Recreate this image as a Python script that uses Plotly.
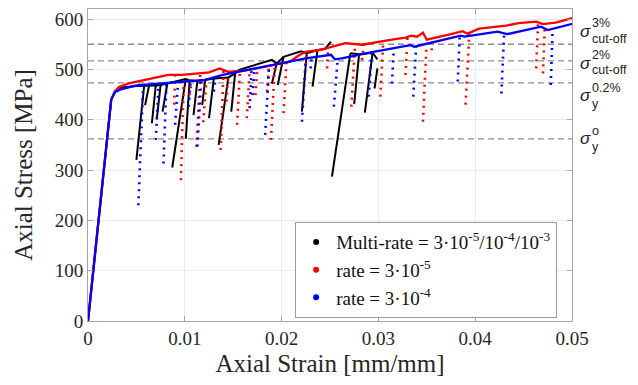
import plotly.graph_objects as go

# ---------------- data (strain [mm/mm], stress [MPa]) ----------------
# Multi-rate (black): envelope and unload/reload segments
black_env_strain = [0, 0.0024, 0.0028, 0.0035, 0.0050, 0.0058, 0.0063, 0.0070, 0.0075, 0.0082,
                    0.0101, 0.0105, 0.0113, 0.0121, 0.0130, 0.0145, 0.0152, 0.0156, 0.0175,
                    0.0190, 0.0195, 0.0202, 0.0220, 0.0226, 0.0237, 0.0245, 0.0251, None,
                    0.0271, 0.0280, 0.0294, 0.0299]
black_env_stress = [0, 440, 457, 464, 467, 467, 467, 468, 469, 472,
                    481, 478, 477, 479, 482, 484, 492, 499, 510,
                    519, 512, 525, 536, 532, 538, 541, 555, None,
                    532, 530, 533, 520]
black_bot_strain = [0.0050, 0.0059, 0.0066, 0.0071, 0.0077, 0.0087, 0.0101, 0.0109, 0.0118, 0.0125,
                    0.0135, 0.0148, 0.0190, 0.0196, 0.0221, 0.0232, 0.0252, 0.0275, 0.0286, 0.0296]
black_bot_stress = [320, 429, 393, 400, 416, 305, 362, 409, 429, 403,
                    350, 416, 472, 469, 416, 466, 287, 431, 414, 462]
black_top_strain = [0.0058, 0.0063, 0.0070, 0.0075, 0.0082, 0.0101, 0.0105, 0.0113, 0.0121, 0.0130,
                    0.0145, 0.0152, 0.0195, 0.0202, 0.0226, 0.0237, 0.0271, 0.0280, 0.0294, 0.0299]
black_top_stress = [467, 467, 468, 469, 472, 481, 478, 477, 479, 482,
                    484, 492, 512, 525, 532, 538, 532, 530, 533, 502]

# rate = 3e-5 (red)
red_env_strain = [0, 0.0024, 0.0028, 0.0032, 0.0042, 0.0066, 0.0083, 0.0097, 0.0115, 0.0125,
                  0.0136, 0.0145, 0.0166, 0.0190, 0.0208, 0.0218, 0.0225, 0.0240, 0.0251,
                  0.0266, 0.0283, 0.0300, 0.0314, 0.0328, 0.0334, 0.0340, 0.0346, 0.0350,
                  0.0360, 0.0375, 0.0387, 0.0392, 0.0404, 0.0432, 0.0445, 0.0463, 0.0470,
                  0.0483, 0.0501]
red_env_stress = [0, 440, 457, 465, 472, 482, 489, 489, 492, 494,
                  502, 495, 499, 509, 515, 528, 535, 539, 545,
                  552, 549, 555, 559, 563, 567, 565, 573, 559,
                  563, 570, 576, 571, 581, 587, 592, 595, 590,
                  593, 602]
red_bot_strain = [0.0089, 0.0096, 0.0105, 0.0112, 0.0119, 0.0137, 0.0143, 0.0154, 0.0164, 0.0173,
                  0.0185, 0.0189, 0.0202, 0.0225, 0.0247, 0.0272, 0.0283, 0.0302, 0.0328, 0.0346,
                  0.0355, 0.0390, 0.0463, 0.0470]
red_bot_stress = [430, 280, 449, 346, 395, 340, 436, 390, 403, 449,
                  456, 360, 413, 509, 502, 426, 519, 446, 489, 396,
                  538, 430, 502, 492]
red_top_strain = [0.0090, 0.0099, 0.0108, 0.0116, 0.0123, 0.0140, 0.0145, 0.0157, 0.0167, 0.0175,
                  0.0187, 0.0193, 0.0205, 0.0226, 0.0248, 0.0276, 0.0285, 0.0305, 0.0330, 0.0350,
                  0.0356, 0.0394, 0.0465, 0.0472]
red_top_stress = [488, 489, 491, 492, 493, 500, 495, 497, 499, 503,
                  507, 510, 514, 535, 543, 551, 549, 555, 563, 560,
                  560, 572, 595, 590]

# rate = 3e-4 (blue)
blue_env_strain = [0, 0.0024, 0.0028, 0.0035, 0.0050, 0.0057, 0.0080, 0.0100, 0.0121, 0.0139,
                   0.0173, 0.0208, 0.0225, 0.0251, 0.0255, 0.0262, 0.0292, 0.0333, 0.0337,
                   0.0385, 0.0389, 0.0423, 0.0433, 0.0468, 0.0475, 0.0501]
blue_env_stress = [0, 440, 455, 461, 468, 469, 472, 476, 479, 489,
                   502, 515, 522, 529, 520, 522, 534, 548, 545,
                   567, 565, 575, 570, 585, 578, 591]
blue_bot_strain = [0.0052, 0.0070, 0.0078, 0.0090, 0.0104, 0.0113, 0.0130, 0.0167, 0.0170, 0.0183,
                   0.0221, 0.0230, 0.0254, 0.0290, 0.0314, 0.0336, 0.0382, 0.0427, 0.0478]
blue_bot_stress = [230, 360, 313, 390, 426, 347, 456, 423, 449, 370,
                   396, 502, 426, 446, 472, 446, 476, 452, 469]
blue_top_strain = [0.0057, 0.0073, 0.0081, 0.0093, 0.0106, 0.0117, 0.0132, 0.0169, 0.0172, 0.0187,
                   0.0225, 0.0231, 0.0258, 0.0293, 0.0316, 0.0339, 0.0384, 0.0430, 0.0480]
blue_top_stress = [469, 471, 472, 474, 477, 478, 484, 500, 501, 506,
                   522, 524, 521, 534, 541, 546, 567, 574, 580]

# reference stress levels
level_names = ["o", "0.2%", "2%", "3%"]
level_values = [362, 473, 517, 550]

legend_names = ["Multi-rate = 3\u00b710<sup>-5</sup>/10<sup>-4</sup>/10<sup>-3</sup>",
                "rate = 3\u00b710<sup>-5</sup>",
                "rate = 3\u00b710<sup>-4</sup>"]
colors = ["#000000", "#ff0000", "#0000ff"]

x_ticks = [0, 0.01, 0.02, 0.03, 0.04, 0.05]
x_ticklabels = ["0", "0.01", "0.02", "0.03", "0.04", "0.05"]
y_ticks = [0, 100, 200, 300, 400, 500, 600]


def segments(bx, by, tx, ty):
    xs, ys = [], []
    for a, b, c, d in zip(bx, by, tx, ty):
        xs += [a, c, None]
        ys += [b, d, None]
    return xs, ys


fig = go.Figure()

series = [
    (black_env_strain, black_env_stress, black_bot_strain, black_bot_stress, black_top_strain, black_top_stress, "solid", 2.0, 2.0),
    (red_env_strain, red_env_stress, red_bot_strain, red_bot_stress, red_top_strain, red_top_stress, "2px,5px", 2.6, 2.3),
    (blue_env_strain, blue_env_stress, blue_bot_strain, blue_bot_stress, blue_top_strain, blue_top_stress, "2px,5px", 2.6, 2.3),
]

for i, (ex, ey, bx, by, tx, ty, dash, w, ew) in enumerate(series):
    fig.add_trace(go.Scatter(x=ex, y=ey, mode="lines", line=dict(color=colors[i], width=ew),
                             showlegend=False, hoverinfo="skip"))
    sx, sy = segments(bx, by, tx, ty)
    fig.add_trace(go.Scatter(x=sx, y=sy, mode="lines", line=dict(color=colors[i], width=w, dash=dash),
                             showlegend=False, hoverinfo="skip"))

for i, name in enumerate(legend_names):
    fig.add_trace(go.Scatter(x=[None], y=[None], mode="markers", name=name,
                             marker=dict(color=colors[i], size=6)))

for v in level_values:
    fig.add_shape(type="line", xref="x", yref="y", x0=0, x1=0.05, y0=v, y1=v,
                  line=dict(color="#8c8c8c", width=1.3, dash="6px,4px"), layer="below")

# right-side labels: (sigma y, sup text, sup y, sub text, sub y)
label_specs = [
    (575, "3%", 592, "cut-off", 561),
    (512, "2%", 529, "cut-off", 498),
    (449, "0.2%", 464, "y", 432),
    (363, "o", 377, "y", 345),
]
for sy_, sup, supy, sub, suby in label_specs:
    fig.add_annotation(xref="paper", yref="y", x=1.013, y=sy_, text="<i>\u03c3</i>", showarrow=False,
                       xanchor="left", yanchor="middle",
                       font=dict(family="Liberation Sans", size=17, color="#222"))
    fig.add_annotation(xref="paper", yref="y", x=1.038, y=supy, text=sup, showarrow=False,
                       xanchor="left", yanchor="middle",
                       font=dict(family="Liberation Sans", size=12.5, color="#222"))
    fig.add_annotation(xref="paper", yref="y", x=1.038, y=suby, text=sub, showarrow=False,
                       xanchor="left", yanchor="middle",
                       font=dict(family="Liberation Sans", size=12.5, color="#222"))

axis_common = dict(showline=True, linecolor="#a6a6a6", linewidth=1, mirror="ticks",
                   ticks="inside", ticklen=5, tickcolor="#a6a6a6", automargin=False,
                   showgrid=True, gridcolor="#ebebeb", gridwidth=1, zeroline=False,
                   tickfont=dict(family="Liberation Serif", size=19, color="#262626"))

fig.update_layout(
    width=638, height=385,
    margin=dict(l=88, r=66, t=9, b=64),
    paper_bgcolor="white", plot_bgcolor="white",
    xaxis=dict(range=[0, 0.05], tickvals=x_ticks, ticktext=x_ticklabels,
               title=dict(text="Axial Strain [mm/mm]", standoff=6,
                          font=dict(family="Liberation Serif", size=25, color="#262626")),
               **axis_common),
    yaxis=dict(range=[0, 620], tickvals=y_ticks,
               title=dict(text="Axial Stress [MPa]", standoff=14,
                          font=dict(family="Liberation Serif", size=25, color="#262626")),
               **axis_common),
    legend=dict(x=0.428, y=0.317, xanchor="left", yanchor="top",
                bgcolor="white", bordercolor="#9a9a9a", borderwidth=1,
                font=dict(family="Liberation Serif", size=19, color="#111"),
                tracegroupgap=0, itemwidth=30),
    showlegend=True,
)

fig.write_html("out.html", config={"displayModeBar": False},
               post_script="document.body.style.margin='0px';")
